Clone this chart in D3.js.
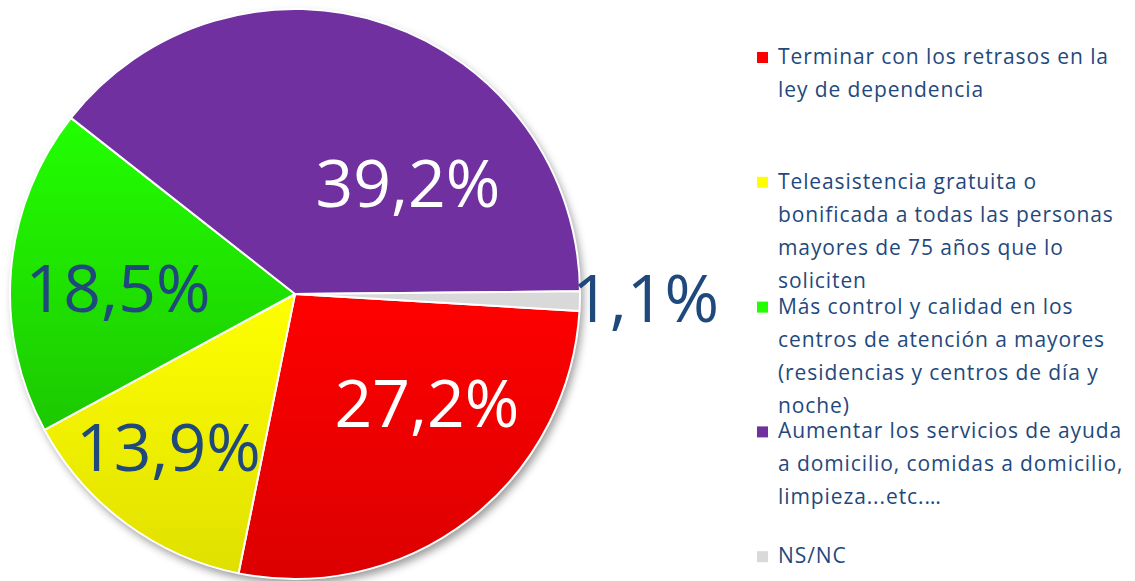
<!DOCTYPE html>
<html>
<head>
<meta charset="utf-8">
<script src="https://cdn.jsdelivr.net/npm/d3@7"></script>
<style>
  body { margin: 0; background: #fff; }
  svg { display: block; }
</style>
</head>
<body>
<div id="container"></div>
<script>
// data
const categories = [
  'Terminar con los retrasos en la ley de dependencia',
  'Teleasistencia gratuita o bonificada a todas las personas mayores de 75 años que lo soliciten',
  'Más control y calidad en los centros de atención a mayores (residencias y centros de día y noche)',
  'Aumentar los servicios de ayuda a domicilio, comidas a domicilio, limpieza...etc.…',
  'NS/NC'
];
const values = [27.2, 13.9, 18.5, 39.2, 1.1];
const valueLabels = ['27,2%', '13,9%', '18,5%', '39,2%', '1,1%'];
const legendLines = [
  ['Terminar con los retrasos en la', 'ley de dependencia'],
  ['Teleasistencia gratuita o', 'bonificada a todas las personas', 'mayores de 75 años que lo', 'soliciten'],
  ['Más control y calidad en los', 'centros de atención a mayores', '(residencias y centros de día y', 'noche)'],
  ['Aumentar los servicios de ayuda', 'a domicilio, comidas a domicilio,', 'limpieza...etc.…'],
  ['NS/NC']
];

// styles
const colors = ['#ff0000', '#ffff00', '#22ff00', '#7030a0', '#d9d9d9'];
const darker = ['#dc0000', '#e0e000', '#1cc800', '#7030a0', '#d9d9d9'];
const labelColors = ['#ffffff', '#1f497d', '#1f497d', '#ffffff', '#1f497d'];
const labelOffsets = [[45, 20], [-42, 62], [-35, 30], [67, 48], [0, 0]];

const options = { width: 1135, height: 581, cx: 295, cy: 294, r: 285 };

const svg = d3.select('#container').append('svg')
  .attr('width', options.width)
  .attr('height', options.height);

const defs = svg.append('defs');
const filter = defs.append('filter').attr('id', 'shadow')
  .attr('x', '-10%').attr('y', '-10%').attr('width', '125%').attr('height', '125%');
filter.append('feDropShadow')
  .attr('dx', 3).attr('dy', 5).attr('stdDeviation', 4)
  .attr('flood-color', '#000').attr('flood-opacity', 0.4);

colors.forEach((c, i) => {
  let g = defs.append('linearGradient').attr('id', 'grad' + i)
    .attr('x1', 0).attr('y1', 0).attr('x2', 0).attr('y2', 1);
  g.append('stop').attr('offset', '0%').attr('stop-color', c);
  g.append('stop').attr('offset', '100%').attr('stop-color', darker[i]);
});

const start = 93.4 * Math.PI / 180;
const pie = d3.pie().sort(null).value(d => d)
  .startAngle(start).endAngle(start + 2 * Math.PI);
const arcs = pie(values);
const arc = d3.arc().innerRadius(0).outerRadius(options.r);

const g = svg.append('g').attr('transform', `translate(${options.cx},${options.cy})`);

// shadow disc
g.append('circle').attr('r', options.r).attr('fill', '#fff')
  .attr('filter', 'url(#shadow)');

g.selectAll('path.slice').data(arcs).enter().append('path')
  .attr('class', 'slice')
  .attr('d', arc)
  .attr('fill', (d, i) => 'url(#grad' + i + ')')
  .attr('stroke', '#fff')
  .attr('stroke-width', 2)
  .attr('stroke-linejoin', 'round');

// value labels
g.selectAll('text.val').data(arcs).enter().append('text')
  .attr('class', 'val')
  .attr('font-family', 'Open Sans, sans-serif')
  .attr('font-size', 66)
  .attr('fill', (d, i) => labelColors[i])
  .attr('text-anchor', (d, i) => i === 4 ? 'start' : 'middle')
  .attr('x', (d, i) => {
    if (i === 4) return options.r * Math.sin((d.startAngle + d.endAngle) / 2) - 8;
    return arc.centroid(d)[0] + labelOffsets[i][0];
  })
  .attr('y', (d, i) => {
    if (i === 4) return -options.r * Math.cos((d.startAngle + d.endAngle) / 2) + 21;
    return arc.centroid(d)[1] + labelOffsets[i][1];
  })
  .text((d, i) => valueLabels[i]);

// legend
const legend = svg.append('g').attr('transform', 'translate(757,64)');
const items = legend.selectAll('g').data(categories).enter().append('g')
  .attr('transform', (d, i) => `translate(0,${i * 124.8})`);
items.append('rect')
  .attr('x', 0).attr('y', -12).attr('width', 11).attr('height', 11)
  .attr('fill', (d, i) => colors[i]);
items.append('text')
  .attr('font-family', 'Open Sans, sans-serif')
  .attr('font-size', 21)
  .attr('letter-spacing', 0.9)
  .attr('fill', '#1f497d')
  .selectAll('tspan').data((d, i) => legendLines[i]).enter().append('tspan')
  .attr('x', 21)
  .attr('y', (d, j) => j * 33)
  .text(d => d);
</script>
</body>
</html>
